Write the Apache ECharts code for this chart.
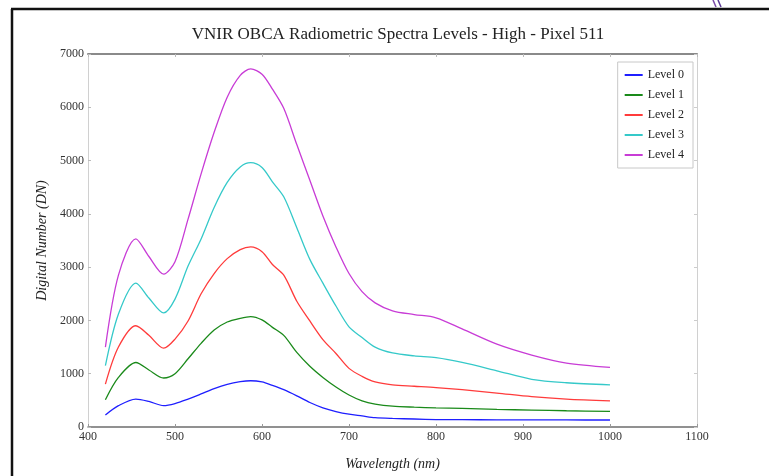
<!DOCTYPE html>
<html>
<head>
<meta charset="utf-8">
<script src="https://cdn.jsdelivr.net/npm/echarts@6/dist/echarts.min.js"></script>
<style>
  html, body { margin: 0; padding: 0; background: #fff; }
  #spectra { width: 769px; height: 476px; }
</style>
</head>
<body>
<div id="spectra"></div>
<script>
// wavelengths (nm) shared by all levels
var wavelength = [420, 435, 455, 470, 487, 500, 515, 530, 545, 560, 575, 587, 600, 612, 625,
                  640, 655, 670, 685, 700, 715, 730, 750, 775, 800, 830, 870, 910, 950, 1000];

var level0 = [225, 400, 524, 480, 400, 440, 524, 620, 720, 800, 850, 868, 845, 780, 700,
              585, 460, 360, 290, 240, 208, 175, 160, 150, 140, 137, 135, 133, 132, 131];
var level1 = [512, 930, 1210, 1070, 920, 1000, 1280, 1570, 1820, 1970, 2040, 2072, 2010, 1870, 1720,
              1400, 1140, 930, 750, 600, 490, 430, 390, 372, 360, 350, 331, 318, 305, 293];
var level2 = [805, 1500, 1900, 1720, 1480, 1650, 1990, 2500, 2880, 3160, 3330, 3380, 3290, 3050, 2850,
              2360, 1990, 1640, 1380, 1100, 950, 845, 790, 765, 740, 700, 637, 570, 525, 490];
var level3 = [1150, 2120, 2700, 2420, 2140, 2400, 3020, 3530, 4120, 4590, 4880, 4960, 4870, 4600, 4320,
              3740, 3146, 2700, 2270, 1880, 1680, 1500, 1390, 1335, 1300, 1211, 1055, 895, 830, 790];
var level4 = [1500, 2850, 3530, 3200, 2870, 3100, 3900, 4750, 5530, 6190, 6600, 6720, 6620, 6340, 5980,
              5300, 4630, 3960, 3380, 2880, 2540, 2330, 2180, 2110, 2050, 1840, 1554, 1350, 1200, 1120];

var levelNames = ['Level 0', 'Level 1', 'Level 2', 'Level 3', 'Level 4'];
var levelColors = ['#1f1fff', '#1a8a1a', '#ff3b3b', '#35c9c9', '#c83cd6'];
var levels = [level0, level1, level2, level3, level4];

var serif = 'Liberation Serif';

function pairs(vals) {
  return wavelength.map(function (w, i) { return [w, vals[i]]; });
}

// plain numbers, no thousands separator
function plain(v) { return String(v); }

var chart = echarts.init(document.getElementById('spectra'));

var series = levels.map(function (vals, i) {
  return {
    name: levelNames[i],
    type: 'line',
    data: pairs(vals),
    smooth: 0.3,
    showSymbol: false,
    lineStyle: { color: levelColors[i], width: 1.3 },
    itemStyle: { color: levelColors[i] },
    emphasis: { disabled: true }
  };
});

var option = {
  backgroundColor: '#fff',
  animation: false,
  title: {
    text: 'VNIR OBCA Radiometric Spectra Levels - High - Pixel 511',
    left: 393,
    top: 21,
    textAlign: 'center',
    textStyle: { fontFamily: serif, fontSize: 17, fontWeight: 'normal', color: '#222' }
  },
  legend: {
    orient: 'vertical',
    right: 76,
    top: 62,
    padding: [7, 9, 7, 7],
    borderColor: '#c8c8c8',
    borderWidth: 1,
    icon: 'rect',
    itemWidth: 18,
    itemHeight: 2,
    itemGap: 8,
    textStyle: { fontFamily: serif, fontSize: 12, color: '#222', lineHeight: 12 },
    data: levelNames
  },
  grid: { left: 88, right: 72, top: 54, bottom: 48 },
  xAxis: [{
    type: 'value',
    min: 400, max: 1100, interval: 100,
    name: 'Wavelength (nm)',
    nameLocation: 'middle',
    nameGap: 30,
    nameTextStyle: { fontFamily: serif, fontStyle: 'italic', fontSize: 14, color: '#222' },
    axisLine: { lineStyle: { color: '#6e6e6e', width: 1.5 } },
    axisTick: { inside: true, length: 3, lineStyle: { color: '#999' } },
    axisLabel: { fontFamily: serif, fontSize: 12, color: '#333', margin: 4, formatter: plain },
    splitLine: { show: false }
  }, {
    type: 'value',
    position: 'top',
    min: 400, max: 1100, interval: 100,
    axisLine: { show: true, onZero: false, lineStyle: { color: '#8a8a8a', width: 2 } },
    axisTick: { inside: true, length: 3, lineStyle: { color: '#bbb' } },
    axisLabel: { show: false },
    splitLine: { show: false }
  }],
  yAxis: [{
    type: 'value',
    min: 0, max: 7000, interval: 1000,
    name: 'Digital Number (DN)',
    nameLocation: 'middle',
    nameGap: 38,
    nameTextStyle: { fontFamily: serif, fontStyle: 'italic', fontSize: 14, color: '#222' },
    axisLine: { show: true, lineStyle: { color: '#d0d0d0', width: 1 } },
    axisTick: { show: true, inside: true, length: 3, lineStyle: { color: '#bbb' } },
    axisLabel: { fontFamily: serif, fontSize: 12, color: '#333', margin: 4, formatter: plain },
    splitLine: { show: false }
  }, {
    type: 'value',
    position: 'right',
    min: 0, max: 7000, interval: 1000,
    axisLine: { show: true, onZero: false, lineStyle: { color: '#d0d0d0', width: 1 } },
    axisTick: { show: true, inside: true, length: 3, lineStyle: { color: '#ccc' } },
    axisLabel: { show: false },
    splitLine: { show: false }
  }],
  graphic: [
    { type: 'line', shape: { x1: 12, y1: 9, x2: 12, y2: 476 }, style: { stroke: '#111', lineWidth: 2.5 } },
    { type: 'line', shape: { x1: 11, y1: 9, x2: 769, y2: 9 }, style: { stroke: '#111', lineWidth: 2.5 } },
    { type: 'polyline', shape: { points: [[713, 0], [716, 7]] }, style: { stroke: '#7a4aa8', lineWidth: 1.5 } },
    { type: 'polyline', shape: { points: [[718, 0], [721, 7]] }, style: { stroke: '#5b3a96', lineWidth: 1.5 } }
  ],
  series: series
};

chart.setOption(option);
</script>
</body>
</html>
